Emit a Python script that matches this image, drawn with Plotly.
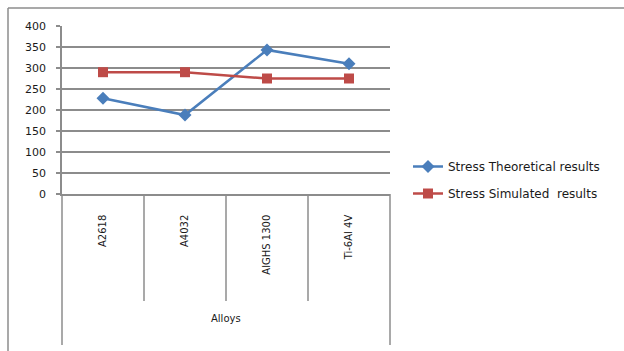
import plotly.graph_objects as go

categories = ["A2618", "A4032", "AlGHS 1300", "Ti-6Al 4V"]
theoretical = [228, 188, 343, 310]
simulated = [290, 290, 275, 275]
y_ticks = [0, 50, 100, 150, 200, 250, 300, 350, 400]
axis_title = "Alloys"

W, H = 624, 351
L, R, T, B = 62, 234, 26, 157
pw, ph = W - L - R, H - T - B

def px_x(p):
    return (p - L) / pw

def px_y(p):
    return (H - B - p) / ph

FONT = "DejaVu Sans"
GRID = "#8c8c8c"
TXT = "#1a1a1a"

fig = go.Figure()
fig.add_trace(go.Scatter(
    x=categories, y=theoretical, mode="lines+markers",
    name="Stress Theoretical results", legendgroup="a",
    line=dict(color="#4a7ebb", width=2.5),
    marker=dict(symbol="diamond", size=10, color="#4a7ebb"),
))
fig.add_trace(go.Scatter(
    x=categories, y=simulated, mode="lines+markers",
    name="Stress Simulated  results", legendgroup="b",
    line=dict(color="#be4b48", width=2.5),
    marker=dict(symbol="square", size=10, color="#be4b48"),
))

shapes = []
shapes.append(dict(type="line", xref="paper", yref="paper",
                   x0=px_x(8), x1=px_x(W + 5), y0=px_y(8), y1=px_y(8),
                   line=dict(color=GRID, width=1.5)))
shapes.append(dict(type="line", xref="paper", yref="paper",
                   x0=px_x(8), x1=px_x(8), y0=px_y(8), y1=px_y(H + 5),
                   line=dict(color=GRID, width=1.5)))
n = len(categories)
for i in range(n + 1):
    xp = i / n
    bottom = px_y(345) if i in (0, n) else px_y(301)
    shapes.append(dict(type="line", xref="paper", yref="paper",
                       x0=xp, x1=xp, y0=0, y1=bottom,
                       line=dict(color=GRID, width=1.5)))

fig.update_layout(
    width=W, height=H,
    margin=dict(l=L, r=R, t=T, b=B, pad=0),
    paper_bgcolor="white", plot_bgcolor="white",
    font=dict(family=FONT, size=10, color=TXT),
    showlegend=True,
    legend=dict(x=px_x(408), y=px_y(152), xanchor="left", yanchor="top",
                font=dict(family=FONT, size=12, color=TXT),
                tracegroupgap=8, traceorder="grouped",
                bgcolor="rgba(0,0,0,0)", itemwidth=30),
    xaxis=dict(type="category", range=[-0.5, n - 0.5], tickangle=-90,
               showgrid=False, showline=True, linecolor=GRID, linewidth=1.5,
               ticks="", tickfont=dict(family=FONT, size=10, color=TXT),
               ticklabelstandoff=15, fixedrange=True),
    yaxis=dict(range=[0, 400], tickvals=y_ticks, ticktext=[str(v) for v in y_ticks],
               showgrid=True, gridcolor=GRID, gridwidth=1.5,
               showline=True, linecolor=GRID, linewidth=1.5,
               ticks="outside", ticklen=4, tickcolor=GRID, tickwidth=1.5,
               tickfont=dict(family=FONT, size=11, color=TXT), zeroline=False,
               ticklabelstandoff=8),
    shapes=shapes,
    annotations=[dict(text=axis_title, xref="paper", yref="paper",
                      x=0.5, y=px_y(326), showarrow=False,
                      font=dict(family=FONT, size=10, color=TXT))],
)

fig.write_html("out.html")
